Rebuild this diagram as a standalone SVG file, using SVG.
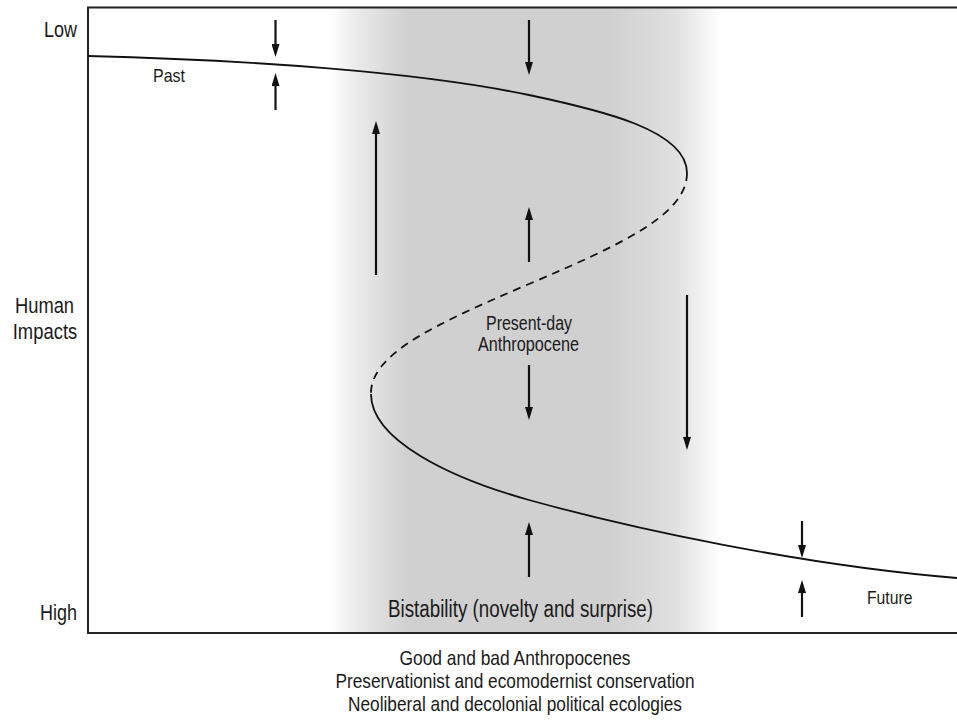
<svg xmlns="http://www.w3.org/2000/svg" width="957" height="720" viewBox="0 0 957 720">
<style>
text{font-family:"Liberation Sans",Arial,sans-serif;fill:#1a1a1a}
.ax{fill:none;stroke:#222;stroke-width:2}
.cv{fill:none;stroke:#111;stroke-width:1.8}
.ar{stroke:#111;stroke-width:2.2;fill:none;marker-end:url(#ah)}
</style>
<defs>
<marker id="ah" markerUnits="userSpaceOnUse" viewBox="0 0 13 8" refX="0" refY="4" markerWidth="13" markerHeight="8" orient="auto">
<path d="M0,0 L13,4 L0,8 z" fill="#111"/>
</marker>
<linearGradient id="band" x1="330" y1="0" x2="720" y2="0" gradientUnits="userSpaceOnUse">
<stop offset="0" stop-color="#ffffff"/>
<stop offset="0.07" stop-color="#eaeaea"/>
<stop offset="0.2" stop-color="#d0d0d0"/>
<stop offset="0.72" stop-color="#d0d0d0"/>
<stop offset="0.78" stop-color="#d6d6d6"/>
<stop offset="0.88" stop-color="#dfdfdf"/>
<stop offset="0.95" stop-color="#f1f1f1"/>
<stop offset="1" stop-color="#ffffff"/>
</linearGradient>
</defs>
<rect width="957" height="720" fill="#fff"/>
<g id="band-region">
<rect x="330" y="8" width="390" height="625" fill="url(#band)"/>
</g>
<g id="axes">
<path class="ax" d="M957,7.5 L88,7.5 L88,633 L957,633"/>
</g>
<g id="connectors">
<path id="upper-branch" class="cv" d="M88,56 C250,60 420,72 529,95 C600,110 687,130 687,173"/>
<path id="unstable-branch" class="cv" stroke-dasharray="8 6" d="M687,173 C687,215 620,245 529,284 C438,323 371,353 371,393"/>
<path id="lower-branch" class="cv" d="M371,394 C371,440 450,478 529,500 C630,528 800,565 957,578"/>
<line class="ar" x1="275.5" y1="20" x2="275.5" y2="44"/>
<line class="ar" x1="275.5" y1="110" x2="275.5" y2="86"/>
<line class="ar" x1="529" y1="20" x2="529" y2="62"/>
<line class="ar" x1="529" y1="262" x2="529" y2="220"/>
<line class="ar" x1="376" y1="275" x2="376" y2="134"/>
<line class="ar" x1="687" y1="295" x2="687" y2="437"/>
<line class="ar" x1="529" y1="365" x2="529" y2="407"/>
<line class="ar" x1="529" y1="577" x2="529" y2="535"/>
<line class="ar" x1="802" y1="521" x2="802" y2="545"/>
<line class="ar" x1="802" y1="617" x2="802" y2="593"/>
</g>
<g id="label-low"><text x="77" y="37" font-size="22" text-anchor="end" textLength="33" lengthAdjust="spacingAndGlyphs">Low</text></g>
<g id="label-human-impacts">
<text x="44.5" y="313" font-size="22" text-anchor="middle" textLength="59" lengthAdjust="spacingAndGlyphs">Human</text>
<text x="45" y="339" font-size="22" text-anchor="middle" textLength="64.5" lengthAdjust="spacingAndGlyphs">Impacts</text>
</g>
<g id="label-high"><text x="77" y="620" font-size="22" text-anchor="end" textLength="37" lengthAdjust="spacingAndGlyphs">High</text></g>
<g id="label-past"><text x="153" y="82" font-size="19" textLength="32" lengthAdjust="spacingAndGlyphs">Past</text></g>
<g id="label-future"><text x="867" y="604" font-size="19" textLength="45.5" lengthAdjust="spacingAndGlyphs">Future</text></g>
<g id="label-present">
<text x="529" y="330" font-size="19.5" text-anchor="middle" textLength="86" lengthAdjust="spacingAndGlyphs">Present-day</text>
<text x="528.5" y="351" font-size="19.5" text-anchor="middle" textLength="101" lengthAdjust="spacingAndGlyphs">Anthropocene</text>
</g>
<g id="label-bistability"><text x="520.5" y="617" font-size="23" text-anchor="middle" textLength="265" lengthAdjust="spacingAndGlyphs">Bistability (novelty and surprise)</text></g>
<g id="caption">
<text x="515" y="665" font-size="21" text-anchor="middle" textLength="231" lengthAdjust="spacingAndGlyphs">Good and bad Anthropocenes</text>
<text x="515" y="688" font-size="21" text-anchor="middle" textLength="359" lengthAdjust="spacingAndGlyphs">Preservationist and ecomodernist conservation</text>
<text x="515" y="711" font-size="21" text-anchor="middle" textLength="334" lengthAdjust="spacingAndGlyphs">Neoliberal and decolonial political ecologies</text>
</g>
</svg>
